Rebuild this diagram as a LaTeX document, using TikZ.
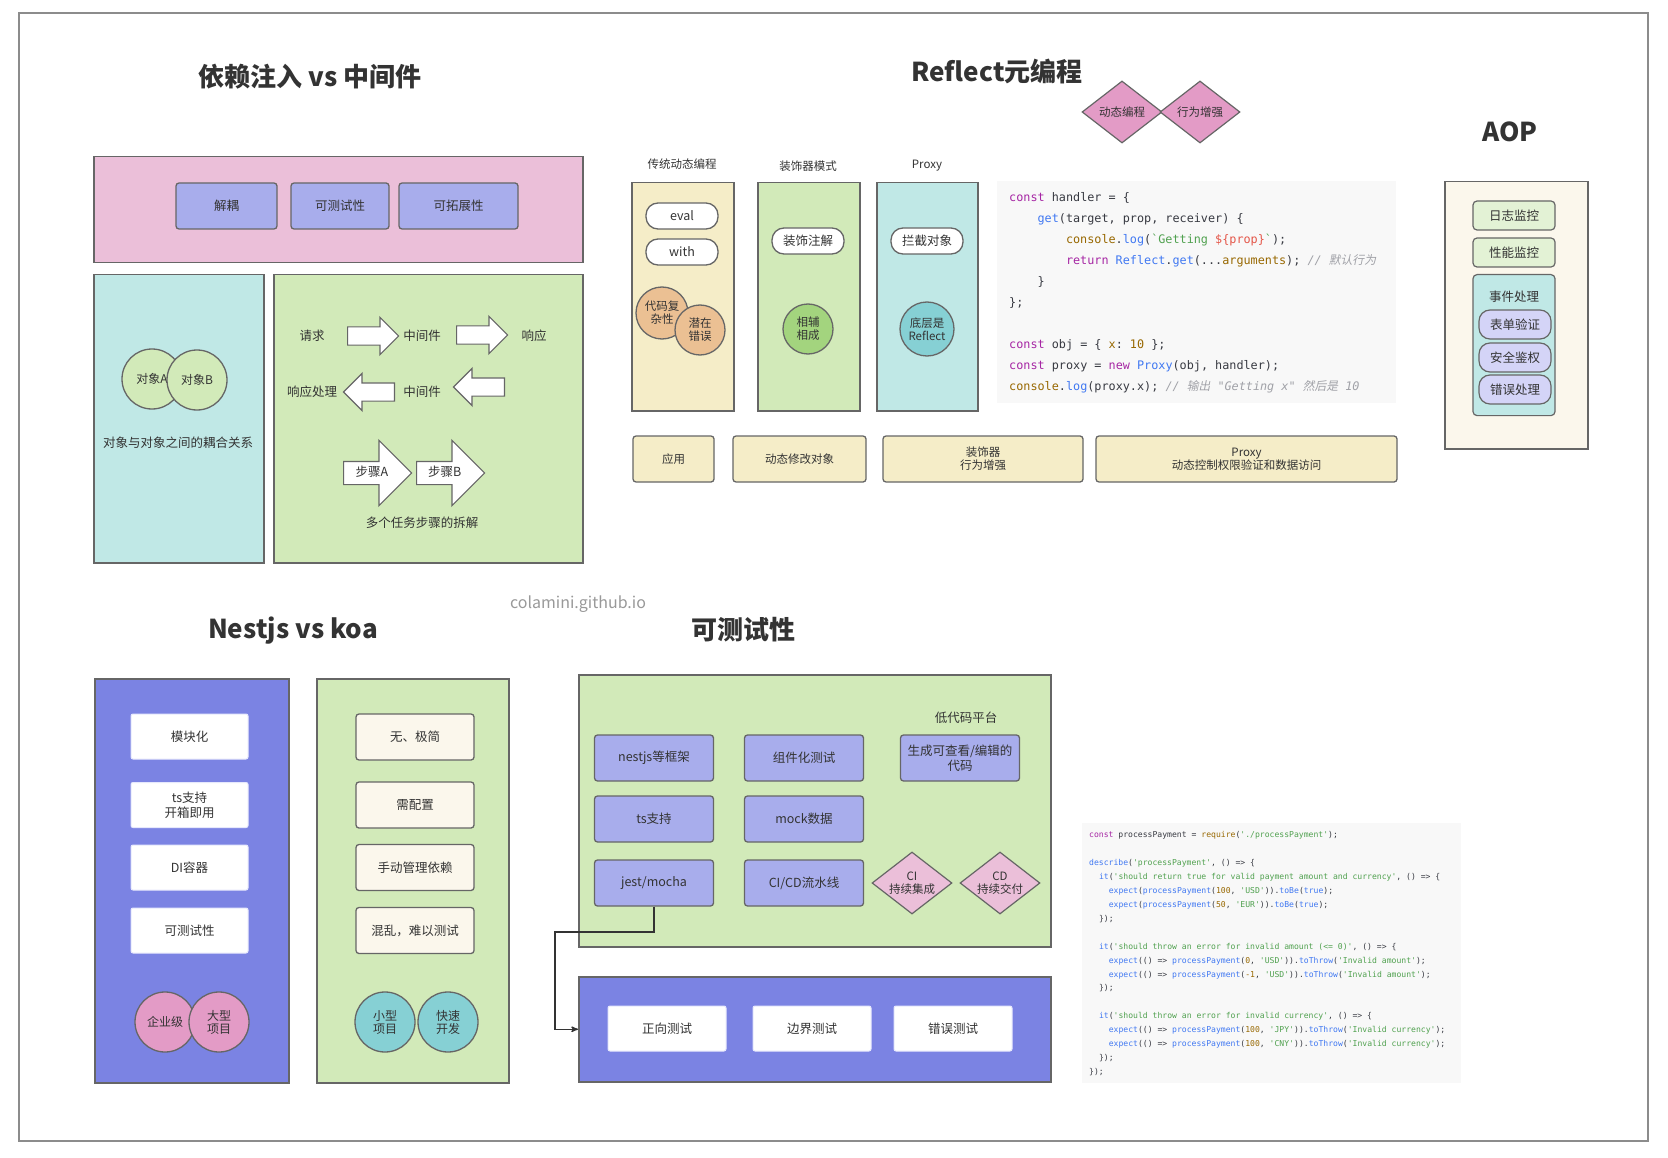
\documentclass[tikz,border=0pt]{standalone}
\usepackage{fontspec}
\setmainfont{Noto Sans CJK SC}
\setmonofont{DejaVu Sans Mono}
\newfontfamily\cjkslant{Noto Sans CJK SC}[FakeSlant=0.2]
\usetikzlibrary{shapes.geometric,shapes.arrows,arrows}

\definecolor{linegray}{HTML}{666666}
\definecolor{txt}{HTML}{333333}
\definecolor{pinkbg}{HTML}{EBBFD9}
\definecolor{rosebg}{HTML}{E39BC6}
\definecolor{lavender}{HTML}{A8ADEC}
\definecolor{cyanbg}{HTML}{C0E8E6}
\definecolor{greenbg}{HTML}{D2EAB9}
\definecolor{yellowbg}{HTML}{F5EDC8}
\definecolor{creambg}{HTML}{FBF7EC}
\definecolor{bluebg}{HTML}{7B83E3}
\definecolor{orangec}{HTML}{EBC093}
\definecolor{greenc}{HTML}{A3D47E}
\definecolor{tealc}{HTML}{86D0D4}
\definecolor{lightgreen}{HTML}{E3F2D5}
\definecolor{lilac}{HTML}{D4D4F7}
\definecolor{wbord}{HTML}{E6E8FC}
\definecolor{codebg}{HTML}{F8F8F8}
\definecolor{codetxt}{HTML}{383A42}
\definecolor{kwcol}{HTML}{A626A4}
\definecolor{fncol}{HTML}{4078F2}
\definecolor{numcol}{HTML}{986801}
\definecolor{strcol}{HTML}{50A14F}
\definecolor{varcol}{HTML}{E45649}
\definecolor{comcol}{HTML}{A0A1A7}

\newcommand{\ckw}[1]{\textcolor{kwcol}{#1}}
\newcommand{\cfn}[1]{\textcolor{fncol}{#1}}
\newcommand{\cnum}[1]{\textcolor{numcol}{#1}}
\newcommand{\cstr}[1]{\textcolor{strcol}{#1}}
\newcommand{\cvar}[1]{\textcolor{varcol}{#1}}
\newcommand{\ccom}[1]{\textcolor{comcol}{\itshape #1}}

\begin{document}
\begin{tikzpicture}[x=1pt,y=-1pt,>=stealth',
    font=\fontsize{12.5}{15}\selectfont,text=txt,
    title/.style={font=\fontsize{26}{30}\selectfont\bfseries},
    panel/.style={draw=linegray,line width=1.5pt,anchor=north west,inner sep=0pt},
    btn/.style={draw=linegray,line width=1.3pt,rounded corners=3pt,fill=lavender,minimum width=119pt,minimum height=46pt,align=center,inner sep=1pt},
    appbox/.style={draw=linegray,line width=1.3pt,rounded corners=3pt,fill=yellowbg,minimum height=46pt,align=center,font=\fontsize{11.5}{13}\selectfont},
    whitebox/.style={draw=wbord,line width=1pt,rounded corners=2pt,fill=white,minimum width=117pt,minimum height=45pt,align=center},
    creambox/.style={draw=linegray,line width=1.3pt,rounded corners=3pt,fill=creambg,minimum width=118pt,minimum height=46pt},
    pill/.style={draw=linegray,line width=1.3pt,fill=white,rounded corners=12pt,minimum width=72pt,minimum height=26pt,inner sep=0pt},
    aopbox/.style={draw=linegray,line width=1.2pt,rounded corners=4pt,fill=lightgreen,minimum width=82pt,minimum height=29pt},
    aoppill/.style={draw=linegray,line width=1.2pt,rounded corners=11pt,fill=lilac,minimum width=72pt,minimum height=29pt},
    ball/.style={circle,draw=linegray,line width=1.3pt,minimum size=60pt,inner sep=0pt,align=center,font=\fontsize{12}{13}\selectfont},
    gem/.style={diamond,draw=linegray,line width=1.2pt,aspect=1.3,minimum width=80pt,minimum height=62pt,inner sep=0pt,align=center,font=\fontsize{11.5}{12.5}\selectfont},
    blockarrow/.style={single arrow,draw=linegray,line width=1.2pt,fill=white,anchor=tail,single arrow head extend=9.5pt,inner ysep=8.5pt,inner xsep=0pt,minimum height=51pt},
    steparrow/.style={blockarrow,single arrow head extend=21pt,inner ysep=6pt,text height=8pt,text depth=2pt,minimum height=68pt},
    colhead/.style={font=\fontsize{11.5}{13}\selectfont},
    codeline/.style={anchor=west,inner sep=0pt,text=codetxt,font=\ttfamily\fontsize{11.8}{14}\selectfont},
    smallcode/.style={codeline,font=\ttfamily\fontsize{8.1}{10}\selectfont}]

\fill[white] (0,0) rectangle (1668,1158);
\useasboundingbox (0,0) rectangle (1668,1158);
\draw[black!45,line width=1.2pt] (19,13) rectangle (1648,1141);

% dependency injection vs middleware
\node[title] (dititle) at (310,77) {依赖注入 vs 中间件};
\node[panel,fill=pinkbg,minimum width=489pt,minimum height=106pt] (dipanel) at (93,156) {};
\node[btn,minimum width=101pt] (decouple) at (226.5,206) {解耦};
\node[btn,minimum width=98pt] (testable) at (340,206) {可测试性};
\node[btn,minimum width=119pt] (extend) at (458.5,206) {可拓展性};
\node[panel,fill=cyanbg,minimum width=170pt,minimum height=288pt] (couplepanel) at (93,274) {};
\node[panel,fill=greenbg,minimum width=309pt,minimum height=288pt] (mwpanel) at (273,274) {};
\node[ball,fill=greenbg] (obja) at (152,379) {对象A};
\node[ball,fill=greenbg] (objb) at (197,380) {对象B};
\node (couple) at (178,443) {对象与对象之间的耦合关系};
\node (req) at (312,336) {请求};
\node[blockarrow] (reqarrow) at (347,336) {};
\node (mida) at (422,336) {中间件};
\node[blockarrow] (resarrow) at (456,335) {};
\node (res) at (534,336) {响应};
\node (reshandle) at (312,392) {响应处理};
\node[blockarrow,shape border rotate=180] (backarrow) at (395,392) {};
\node (midb) at (422,392) {中间件};
\node[blockarrow,shape border rotate=180] (inarrow) at (505,387) {};
\node[steparrow] (stepa) at (343,473) {步骤A};
\node[steparrow] (stepb) at (416,473) {步骤B};
\node (split) at (422,523) {多个任务步骤的拆解};

% reflect
\node[title] (reftitle) at (997,72) {Reflect元编程};
\node[gem,fill=rosebg] (dynprog) at (1122,112) {动态编程};
\node[gem,fill=rosebg] (behave) at (1200,112) {行为增强};
\node[colhead] (tradhead) at (682,164) {传统动态编程};
\node[colhead] (dechead) at (808,166) {装饰器模式};
\node[colhead] (proxyhead) at (927,166) {Proxy};
\node[panel,fill=yellowbg,minimum width=102pt,minimum height=228pt] (tradcol) at (631,182) {};
\node[panel,fill=greenbg,minimum width=102pt,minimum height=228pt] (deccol) at (757,182) {};
\node[panel,fill=cyanbg,minimum width=101pt,minimum height=228pt] (proxycol) at (876,182) {};
\node[pill] (eval) at (682,216) {eval};
\node[pill] (with) at (682,252) {with};
\node[ball,fill=orangec,minimum size=52pt,font=\fontsize{11.5}{13}\selectfont] (complex) at (662,313) {代码复\\杂性};
\node[ball,fill=orangec,minimum size=50pt,font=\fontsize{11.5}{13}\selectfont] (risk) at (700,330) {潜在\\错误};
\node[pill] (annot) at (808,241) {装饰注解};
\node[ball,fill=greenc,minimum size=50pt,font=\fontsize{11.5}{13}\selectfont] (mutual) at (808,329) {相辅\\相成};
\node[pill] (intercept) at (927,241) {拦截对象};
\node[ball,fill=tealc,minimum size=54pt,font=\fontsize{11.5}{13}\selectfont] (base) at (927,329) {底层是\\Reflect};

\node[anchor=north west,fill=codebg,minimum width=399pt,minimum height=222pt,inner sep=0pt] (proxycode) at (997,181) {};
\node[codeline] (pa1) at (1009,198) {\ckw{const} handler = \{};
\node[codeline] (pa2) at (1037.4,219) {\cfn{get}(target, prop, receiver) \{};
\node[codeline] (pa3) at (1065.8,240) {\cnum{console}.\cfn{log}(\cstr{`Getting }\cvar{\$\{prop\}}\cstr{`});};
\node[codeline] (pa4) at (1065.8,261) {\ckw{return} \cfn{Reflect}.\cfn{get}(...\cnum{arguments}); \ccom{// {\cjkslant 默认行为}}};
\node[codeline] (pa5) at (1037.4,282) {\}};
\node[codeline] (pa6) at (1009,303) {\};};
\node[codeline] (pa8) at (1009,345) {\ckw{const} obj = \{ \cnum{x}: \cnum{10} \};};
\node[codeline] (pa9) at (1009,366) {\ckw{const} proxy = \ckw{new} \cfn{Proxy}(obj, handler);};
\node[codeline] (pa10) at (1009,387) {\cnum{console}.\cfn{log}(proxy.x); \ccom{// {\cjkslant 输出} "Getting x" {\cjkslant 然后是} 10}};

\node[appbox,minimum width=81pt] (apply) at (673.5,459) {应用};
\node[appbox,minimum width=133pt] (dynmod) at (799.5,459) {动态修改对象};
\node[appbox,minimum width=200pt] (decapp) at (983,459) {装饰器\\行为增强};
\node[appbox,minimum width=301pt] (proxyapp) at (1246.5,459) {Proxy\\动态控制权限验证和数据访问};

% aop
\node[title] (aoptitle) at (1510,132) {AOP};
\node[panel,fill=creambg,minimum width=143pt,minimum height=267pt] (aoppanel) at (1444,181) {};
\node[aopbox] (logmon) at (1514,215.5) {日志监控};
\node[aopbox] (perfmon) at (1514,252.5) {性能监控};
\node[aopbox,fill=cyanbg,anchor=north,minimum height=141pt] (eventbox) at (1514,274) {};
\node (eventlbl) at (1514,297) {事件处理};
\node[aoppill] (formchk) at (1515,324.5) {表单验证};
\node[aoppill] (authchk) at (1515,357.5) {安全鉴权};
\node[aoppill] (errhandle) at (1515,389.5) {错误处理};

% nestjs vs koa
\node[title] (nesttitle) at (293,631) {Nestjs vs koa};
\node[panel,fill=bluebg,minimum width=194pt,minimum height=404pt] (nestpanel) at (94,678) {};
\node[whitebox] (modular) at (189.5,736.5) {模块化};
\node[whitebox] (tsready) at (189.5,805) {ts支持\\开箱即用};
\node[whitebox] (dicont) at (189.5,867.5) {DI容器};
\node[whitebox] (nesttest) at (189.5,930.5) {可测试性};
\node[ball,fill=rosebg] (enterprise) at (165,1022) {企业级};
\node[ball,fill=rosebg] (bigproj) at (219,1022) {大型\\项目};
\node[panel,fill=greenbg,minimum width=192pt,minimum height=404pt] (koapanel) at (316,678) {};
\node[creambox] (minimal) at (415,737) {无、极简};
\node[creambox] (config) at (415,805) {需配置};
\node[creambox] (manual) at (415,867.5) {手动管理依赖};
\node[creambox] (messy) at (415,930.5) {混乱，难以测试};
\node[ball,fill=tealc] (smallproj) at (385,1022) {小型\\项目};
\node[ball,fill=tealc] (fastdev) at (448,1022) {快速\\开发};

\node[text=black!40,font=\fontsize{16}{18}\selectfont] (site) at (578,604) {colamini.github.io};

% testability
\node[title] (testtitle) at (743,630) {可测试性};
\node[panel,fill=greenbg,minimum width=472pt,minimum height=272pt] (toolpanel) at (578,674) {};
\node[btn] (nestfw) at (654,758) {nestjs等框架};
\node[btn] (comptest) at (804,758) {组件化测试};
\node[btn] (gencode) at (960,758) {生成可查看/编辑的\\代码};
\node (lowcode) at (966,718) {低代码平台};
\node[btn] (tssupport) at (654,819) {ts支持};
\node[btn] (mockdata) at (804,819) {mock数据};
\node[btn] (jest) at (654,883) {jest/mocha};
\node[btn] (cicd) at (804,883) {CI/CD流水线};
\node[gem,fill=pinkbg] (ci) at (912,883) {CI\\持续集成};
\node[gem,fill=pinkbg] (cd) at (1000,883) {CD\\持续交付};
\node[panel,fill=bluebg,minimum width=472pt,minimum height=105pt] (testpanel) at (578,976) {};
\node[whitebox,minimum width=118pt] (positive) at (667,1028.5) {正向测试};
\node[whitebox,minimum width=118pt] (boundary) at (812,1028.5) {边界测试};
\node[whitebox,minimum width=118pt] (errtest) at (953,1028.5) {错误测试};
\coordinate (jbend) at (555,932);
\draw[->,black!80,line width=1.3pt] (jest.south) |- (jbend) |- (testpanel.west);

\node[anchor=north west,fill=codebg,minimum width=379pt,minimum height=260pt,inner sep=0pt] (testcode) at (1082,823) {};
\node[smallcode] (tc1) at (1089,835) {\ckw{const} processPayment = \cnum{require}(\cstr{'./processPayment'});};
\node[smallcode] (tc3) at (1089,863) {\cfn{describe}(\cstr{'processPayment'}, () => \{};
\node[smallcode] (tc4) at (1098.8,877) {\cfn{it}(\cstr{'should return true for valid payment amount and currency'}, () => \{};
\node[smallcode] (tc5) at (1108.6,891) {\cfn{expect}(\cfn{processPayment}(\cnum{100}, \cstr{'USD'})).\cfn{toBe}(\cfn{true});};
\node[smallcode] (tc6) at (1108.6,905) {\cfn{expect}(\cfn{processPayment}(\cnum{50}, \cstr{'EUR'})).\cfn{toBe}(\cfn{true});};
\node[smallcode] (tc7) at (1098.8,919) {\});};
\node[smallcode] (tc9) at (1098.8,947) {\cfn{it}(\cstr{'should throw an error for invalid amount (<= 0)'}, () => \{};
\node[smallcode] (tc10) at (1108.6,961) {\cfn{expect}(() => \cfn{processPayment}(\cnum{0}, \cstr{'USD'})).\cfn{toThrow}(\cstr{'Invalid amount'});};
\node[smallcode] (tc11) at (1108.6,975) {\cfn{expect}(() => \cfn{processPayment}(\cnum{-1}, \cstr{'USD'})).\cfn{toThrow}(\cstr{'Invalid amount'});};
\node[smallcode] (tc12) at (1098.8,988) {\});};
\node[smallcode] (tc14) at (1098.8,1016) {\cfn{it}(\cstr{'should throw an error for invalid currency'}, () => \{};
\node[smallcode] (tc15) at (1108.6,1030) {\cfn{expect}(() => \cfn{processPayment}(\cnum{100}, \cstr{'JPY'})).\cfn{toThrow}(\cstr{'Invalid currency'});};
\node[smallcode] (tc16) at (1108.6,1044) {\cfn{expect}(() => \cfn{processPayment}(\cnum{100}, \cstr{'CNY'})).\cfn{toThrow}(\cstr{'Invalid currency'});};
\node[smallcode] (tc17) at (1098.8,1058) {\});};
\node[smallcode] (tc18) at (1089,1072) {\});};

\end{tikzpicture}
\end{document}
